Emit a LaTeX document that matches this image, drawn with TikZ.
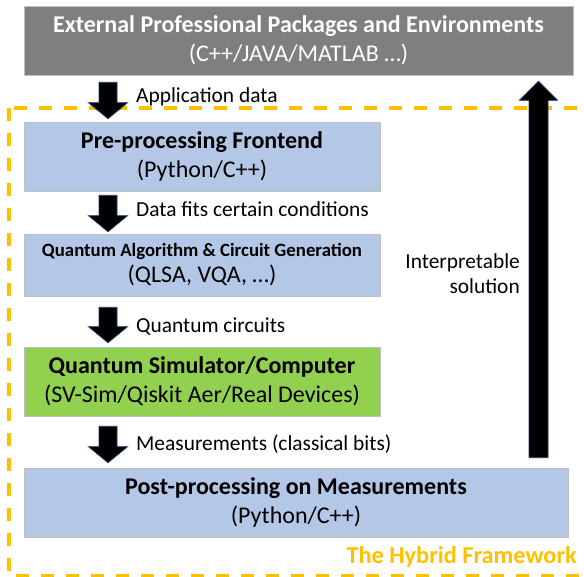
\documentclass[tikz,border=0pt]{standalone}
\usepackage{fontspec}
\setmainfont{Carlito}
\usetikzlibrary{calc}
\definecolor{grayfill}{HTML}{7F7F7F}
\definecolor{bluefill}{HTML}{B4C7E7}
\definecolor{greenfill}{HTML}{92D050}
\definecolor{orangeline}{HTML}{FFC000}
\definecolor{arrowline}{HTML}{203864}
\definecolor{boxline}{HTML}{BFBFBF}
\tikzset{
  box/.style={draw=boxline, line width=0.6pt, inner sep=0pt, align=center,
    font=\fontsize{24}{29}\selectfont},
  lbl/.style={anchor=base west, inner sep=0pt, font=\fontsize{21.4}{25}\selectfont},
  arrowstyle/.style={fill=black, draw=arrowline, line width=0.8pt, line join=miter},
  downarrow/.style={arrowstyle, to path={let \p1=(\tikztostart), \p2=(\tikztotarget) in
    (\x1-9pt,\y1) -- (\x1+9pt,\y1) -- (\x1+9pt,\y2+16pt) -- (\x1+19.5pt,\y2+16pt)
    -- (\x1,\y2) -- (\x1-19.5pt,\y2+16pt) -- (\x1-9pt,\y2+16pt) -- cycle}},
  uparrow/.style={arrowstyle, to path={let \p1=(\tikztostart), \p2=(\tikztotarget) in
    (\x1-9.5pt,\y1) -- (\x1+9.5pt,\y1) -- (\x1+9.5pt,\y2-19pt) -- (\x1+19pt,\y2-19pt)
    -- (\x1,\y2) -- (\x1-19pt,\y2-19pt) -- (\x1-9.5pt,\y2-19pt) -- cycle}}
}
\begin{document}
\begin{tikzpicture}[x=1pt,y=-1pt]
\useasboundingbox (0,0) rectangle (584,577);
% dashed frame
\draw[orangeline, line width=3.5pt, dash pattern=on 13pt off 12pt] (9,108) rectangle (600,576);

% boxes
\node[box, fill=grayfill, text=white, minimum width=549pt, minimum height=69pt] (ext) at (298.5,40.5)
  {\textbf{External Professional Packages and Environments}\\(C++/JAVA/MATLAB …)};
\node[box, fill=bluefill, minimum width=356pt, minimum height=69pt] (pre) at (202,156.5)
  {\textbf{Pre-processing Frontend}\\(Python/C++)};
\node[box, fill=bluefill, minimum width=356pt, minimum height=62pt, font=\fontsize{24}{26}\selectfont] (alg) at (202,265)
  {{\fontsize{18.8}{22}\selectfont\bfseries Quantum Algorithm \& Circuit Generation}\\(QLSA, VQA, …)};
\node[box, fill=greenfill, minimum width=356pt, minimum height=69pt] (sim) at (202,381.5)
  {\textbf{Quantum Simulator/Computer}\\(SV-Sim/Qiskit Aer/Real Devices)};
\node[box, fill=bluefill, minimum width=544pt, minimum height=69pt] (post) at (296,502.5)
  {\textbf{Post-processing on Measurements}\\(Python/C++)};

% arrow axes
\coordinate (ax) at (108,0);
\coordinate (ux) at (538.5,0);

% down arrows
\draw[downarrow] ($(ext.south -| ax)+(0,7)$) to ($(pre.north -| ax)+(0,-3)$);
\draw[downarrow] ($(pre.south -| ax)+(0,4)$) to ($(alg.north -| ax)+(0,-2)$);
\draw[downarrow] ($(alg.south -| ax)+(0,11)$) to ($(sim.north -| ax)+(0,-4)$);
\draw[downarrow] ($(sim.south -| ax)+(0,10)$) to ($(post.north -| ax)+(0,-5)$);
% up arrow
\draw[uparrow] ($(post.north -| ux)+(0,-10)$) to ($(ext.south -| ux)+(0,6)$);

% labels
\node[lbl] (l1) at (136,103) {Application data};
\node[lbl] (l2) at (136,217) {Data fits certain conditions};
\node[lbl] (l3) at (136,333) {Quantum circuits};
\node[lbl] (l4) at (136,450) {Measurements (classical bits)};
\node[anchor=east, inner sep=0pt, align=right, font=\fontsize{21.4}{25}\selectfont] (l5) at (520,274)
  {Interpretable\\solution};
\node[anchor=base east, inner sep=0pt, text=orangeline, font=\fontsize{24.3}{28}\selectfont\bfseries] (hyb) at (577,563)
  {The Hybrid Framework};
\end{tikzpicture}
\end{document}
